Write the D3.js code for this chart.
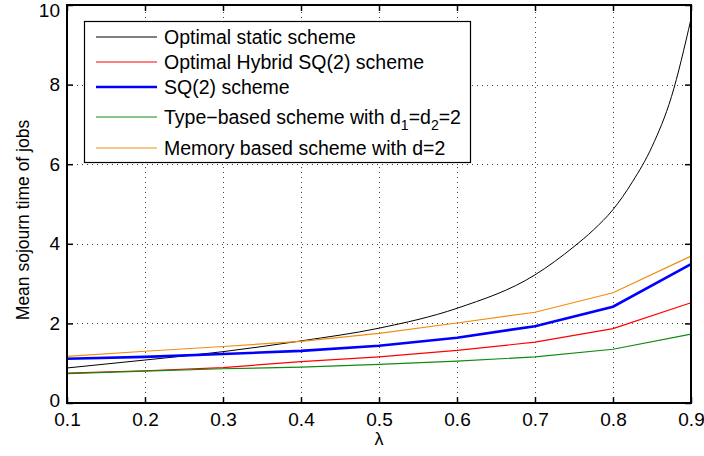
<!DOCTYPE html>
<html>
<head>
<meta charset="utf-8">
<script src="https://cdn.jsdelivr.net/npm/d3@7"></script>
<style>
  body { margin: 0; background: #fff; }
  svg { display: block; font-family: "Liberation Sans", Arial, sans-serif; }
</style>
</head>
<body>
<svg id="chart" width="704" height="456"></svg>
<script>
// lambda values for the piecewise schemes
const lambda = [0.1, 0.2, 0.3, 0.4, 0.5, 0.6, 0.7, 0.8, 0.9];
const hybridSQ2 = [0.75, 0.81, 0.89, 1.04, 1.16, 1.32, 1.53, 1.87, 2.52];
const sq2 = [1.11, 1.16, 1.23, 1.31, 1.44, 1.64, 1.93, 2.42, 3.49];
const typeBased = [0.74, 0.80, 0.86, 0.90, 0.97, 1.05, 1.16, 1.35, 1.73];
const memoryBased = [1.17, 1.30, 1.42, 1.55, 1.75, 2.01, 2.28, 2.77, 3.69];

// the static scheme is a smooth curve, read at more points
const staticLambda = [0.1, 0.2, 0.3, 0.4, 0.5, 0.6, 0.7, 0.75, 0.775, 0.8, 0.825, 0.85, 0.875, 0.9];
const staticScheme = [0.88, 1.08, 1.29, 1.56, 1.88, 2.38, 3.22, 3.93, 4.35, 4.86, 5.56, 6.44, 7.70, 9.65];

const xTicks = [0.1, 0.2, 0.3, 0.4, 0.5, 0.6, 0.7, 0.8, 0.9];
const yTicks = [0, 2, 4, 6, 8, 10];

const svg = d3.select("#chart");
const mLeft = 67, mRight = 691, mTop = 5, mBottom = 403;

const x = d3.scaleLinear().domain([0.1, 0.9]).range([mLeft, mRight]);
const y = d3.scaleLinear().domain([0, 10]).range([mBottom, mTop]);

// dotted grid
const grid = svg.append("g")
  .attr("stroke", "#444")
  .attr("stroke-width", 1)
  .attr("stroke-dasharray", "1,4");
grid.selectAll(".gx")
  .data(xTicks.slice(1, -1))
  .join("line")
  .attr("x1", d => Math.round(x(d)) + 0.5)
  .attr("x2", d => Math.round(x(d)) + 0.5)
  .attr("y1", mBottom)
  .attr("y2", mTop);
grid.selectAll(".gy")
  .data(yTicks.slice(1, -1))
  .join("line")
  .attr("x1", mLeft)
  .attr("x2", mRight)
  .attr("y1", d => Math.round(y(d)) + 0.5)
  .attr("y2", d => Math.round(y(d)) + 0.5);

// axes with inward ticks on all sides
const fontSize = 19;
svg.append("g")
  .attr("transform", `translate(0,${mBottom})`)
  .call(d3.axisBottom(x).tickValues(xTicks).tickFormat(d3.format(".1f"))
    .tickSizeInner(-6).tickSizeOuter(0).tickPadding(10));
const yAxis = svg.append("g")
  .attr("transform", `translate(${mLeft},0)`)
  .call(d3.axisLeft(y).tickValues(yTicks).tickFormat(d3.format("d"))
    .tickSizeInner(-6).tickSizeOuter(0).tickPadding(7));
svg.append("g")
  .attr("transform", `translate(0,${mTop})`)
  .call(d3.axisTop(x).tickValues(xTicks).tickFormat("")
    .tickSizeInner(-6).tickSizeOuter(0));
svg.append("g")
  .attr("transform", `translate(${mRight},0)`)
  .call(d3.axisRight(y).tickValues(yTicks).tickFormat("")
    .tickSizeInner(-6).tickSizeOuter(0));

svg.selectAll(".tick line").attr("stroke", "#000").attr("stroke-width", 1.5);
svg.selectAll(".domain").remove();
svg.selectAll(".tick text")
  .attr("font-size", fontSize)
  .attr("font-family", "Liberation Sans, Arial, sans-serif")
  .attr("fill", "#000");
// the top label sits at the edge of the figure; nudge it so it stays visible
yAxis.selectAll(".tick text").filter(d => d === 10).attr("dy", "0.6em");
yAxis.selectAll(".tick text").filter(d => d === 0).attr("dy", "0.2em");

// series
const seriesLine = d3.line().x(d => x(d[0])).y(d => y(d[1]));
const zip = (xs, ys) => xs.map((v, i) => [v, ys[i]]);

const series = [
  { name: "Optimal static scheme", color: "#000000", width: 1, pts: zip(staticLambda, staticScheme), curve: d3.curveMonotoneX },
  { name: "Optimal Hybrid SQ(2) scheme", color: "#ff0000", width: 1.2, pts: zip(lambda, hybridSQ2) },
  { name: "SQ(2) scheme", color: "#0000ff", width: 2.6, pts: zip(lambda, sq2) },
  { name: "Type-based", color: "#108a10", width: 1.2, pts: zip(lambda, typeBased) },
  { name: "Memory based scheme with d=2", color: "#f08c10", width: 1.2, pts: zip(lambda, memoryBased) }
];

const plot = svg.append("g");
series.forEach(s => {
  plot.append("path")
    .datum(s.pts)
    .attr("fill", "none")
    .attr("stroke", s.color)
    .attr("stroke-width", s.width)
    .attr("d", seriesLine.curve(s.curve || d3.curveLinear));
});

// box
svg.append("rect")
  .attr("x", mLeft).attr("y", mTop)
  .attr("width", mRight - mLeft).attr("height", mBottom - mTop)
  .attr("fill", "none").attr("stroke", "#000").attr("stroke-width", 2);

// legend
const legendFont = 19.5;
const legend = svg.append("g");
legend.append("rect")
  .attr("x", 84.5).attr("y", 21.5)
  .attr("width", 386).attr("height", 141)
  .attr("fill", "#fff").attr("stroke", "#000").attr("stroke-width", 1.2);
const rowY = [37, 62, 87, 117, 148];
series.forEach((s, i) => {
  legend.append("line")
    .attr("x1", 96).attr("x2", 157)
    .attr("y1", rowY[i]).attr("y2", rowY[i])
    .attr("stroke", s.color)
    .attr("stroke-width", s.width);
  const t = legend.append("text")
    .attr("x", 164).attr("y", rowY[i] + 7)
    .attr("font-size", legendFont)
    .attr("fill", "#000");
  if (i === 3) {
    t.append("tspan").text("Type\u2212based scheme with d");
    t.append("tspan").attr("dy", 6).attr("font-size", 14).text("1");
    t.append("tspan").attr("dy", -6).text("=d");
    t.append("tspan").attr("dy", 6).attr("font-size", 14).text("2");
    t.append("tspan").attr("dy", -6).text("=2");
  } else {
    t.text(s.name);
  }
});

// axis labels
svg.append("text")
  .attr("x", x(0.5)).attr("y", 445)
  .attr("text-anchor", "middle")
  .attr("font-size", 18)
  .text("\u03bb");
svg.append("text")
  .attr("transform", "translate(29,220) rotate(-90)")
  .attr("text-anchor", "middle")
  .attr("font-size", 17.5)
  .text("Mean sojourn time of jobs");
</script>
</body>
</html>
